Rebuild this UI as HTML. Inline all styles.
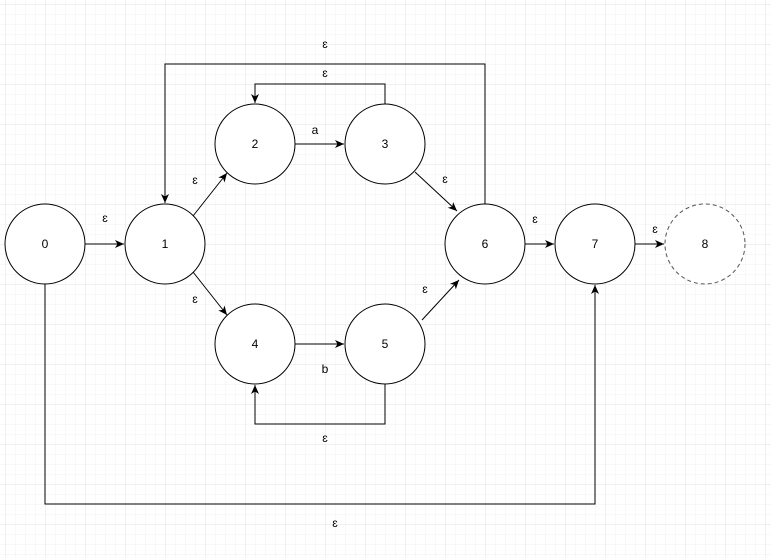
<!DOCTYPE html>
<html><head><meta charset="utf-8"><style>
body{margin:0;background:#fff}
svg{display:block;font-family:"Liberation Sans","DejaVu Sans",sans-serif}
text{font-size:12px;fill:#000;text-anchor:middle;dominant-baseline:central}
</style></head><body>
<svg width="771" height="558" viewBox="0 0 771 558">
<defs>
<pattern id="minor" x="5" y="4" width="10" height="10" patternUnits="userSpaceOnUse"><path d="M0 0V10M0 0H10" stroke="#f0f0f0" fill="none"/></pattern>
<pattern id="major" x="5" y="4" width="40" height="40" patternUnits="userSpaceOnUse"><path d="M0 0V40M0 0H40" stroke="#e2e2e2" fill="none"/></pattern>
<marker id="ar" markerWidth="10" markerHeight="10" refX="9" refY="5" orient="auto" markerUnits="userSpaceOnUse"><path d="M0 1L9 5L0 9L2.5 5Z" fill="#000"/></marker>
</defs>
<rect width="771" height="558" fill="url(#minor)"/>
<rect width="771" height="558" fill="url(#major)"/>
<g stroke="#000" fill="none" stroke-width="1" marker-end="url(#ar)">
<path d="M85 244H124"/>
<path d="M193 216L227 173"/>
<path d="M193 272L227 315"/>
<path d="M295 144H344"/>
<path d="M295 344H344"/>
<path d="M415 172L457 211"/>
<path d="M422 320L459 280"/>
<path d="M385 104V84H255V103"/>
<path d="M385 384V424H255V385"/>
<path d="M485 204V64H165V203"/>
<path d="M525 244H554"/>
<path d="M635 244H664"/>
<path d="M45 284V504H595V285"/>
</g>
<g stroke="#000" fill="#fff">
<circle cx="45" cy="244" r="40"/>
<circle cx="165" cy="244" r="40"/>
<circle cx="255" cy="144" r="40"/>
<circle cx="385" cy="144" r="40"/>
<circle cx="255" cy="344" r="40"/>
<circle cx="385" cy="344" r="40"/>
<circle cx="485" cy="244" r="40"/>
<circle cx="595" cy="244" r="40"/>
<circle cx="705" cy="244" r="40" stroke="#555" stroke-dasharray="4 3"/>
</g>
<g>
<text x="45" y="244">0</text>
<text x="165" y="244">1</text>
<text x="255" y="144">2</text>
<text x="385" y="144">3</text>
<text x="255" y="344">4</text>
<text x="385" y="344">5</text>
<text x="485" y="244">6</text>
<text x="595" y="244">7</text>
<text x="705" y="244">8</text>
<text x="105" y="218">ɛ</text>
<text x="195" y="180">ɛ</text>
<text x="195" y="299">ɛ</text>
<text x="315" y="130">a</text>
<text x="325" y="369">b</text>
<text x="445" y="179">ɛ</text>
<text x="425" y="289">ɛ</text>
<text x="325" y="73">ɛ</text>
<text x="325" y="438">ɛ</text>
<text x="325" y="44">ɛ</text>
<text x="535" y="219">ɛ</text>
<text x="655" y="229">ɛ</text>
<text x="335" y="523">ɛ</text>
</g>
</svg>
</body></html>
